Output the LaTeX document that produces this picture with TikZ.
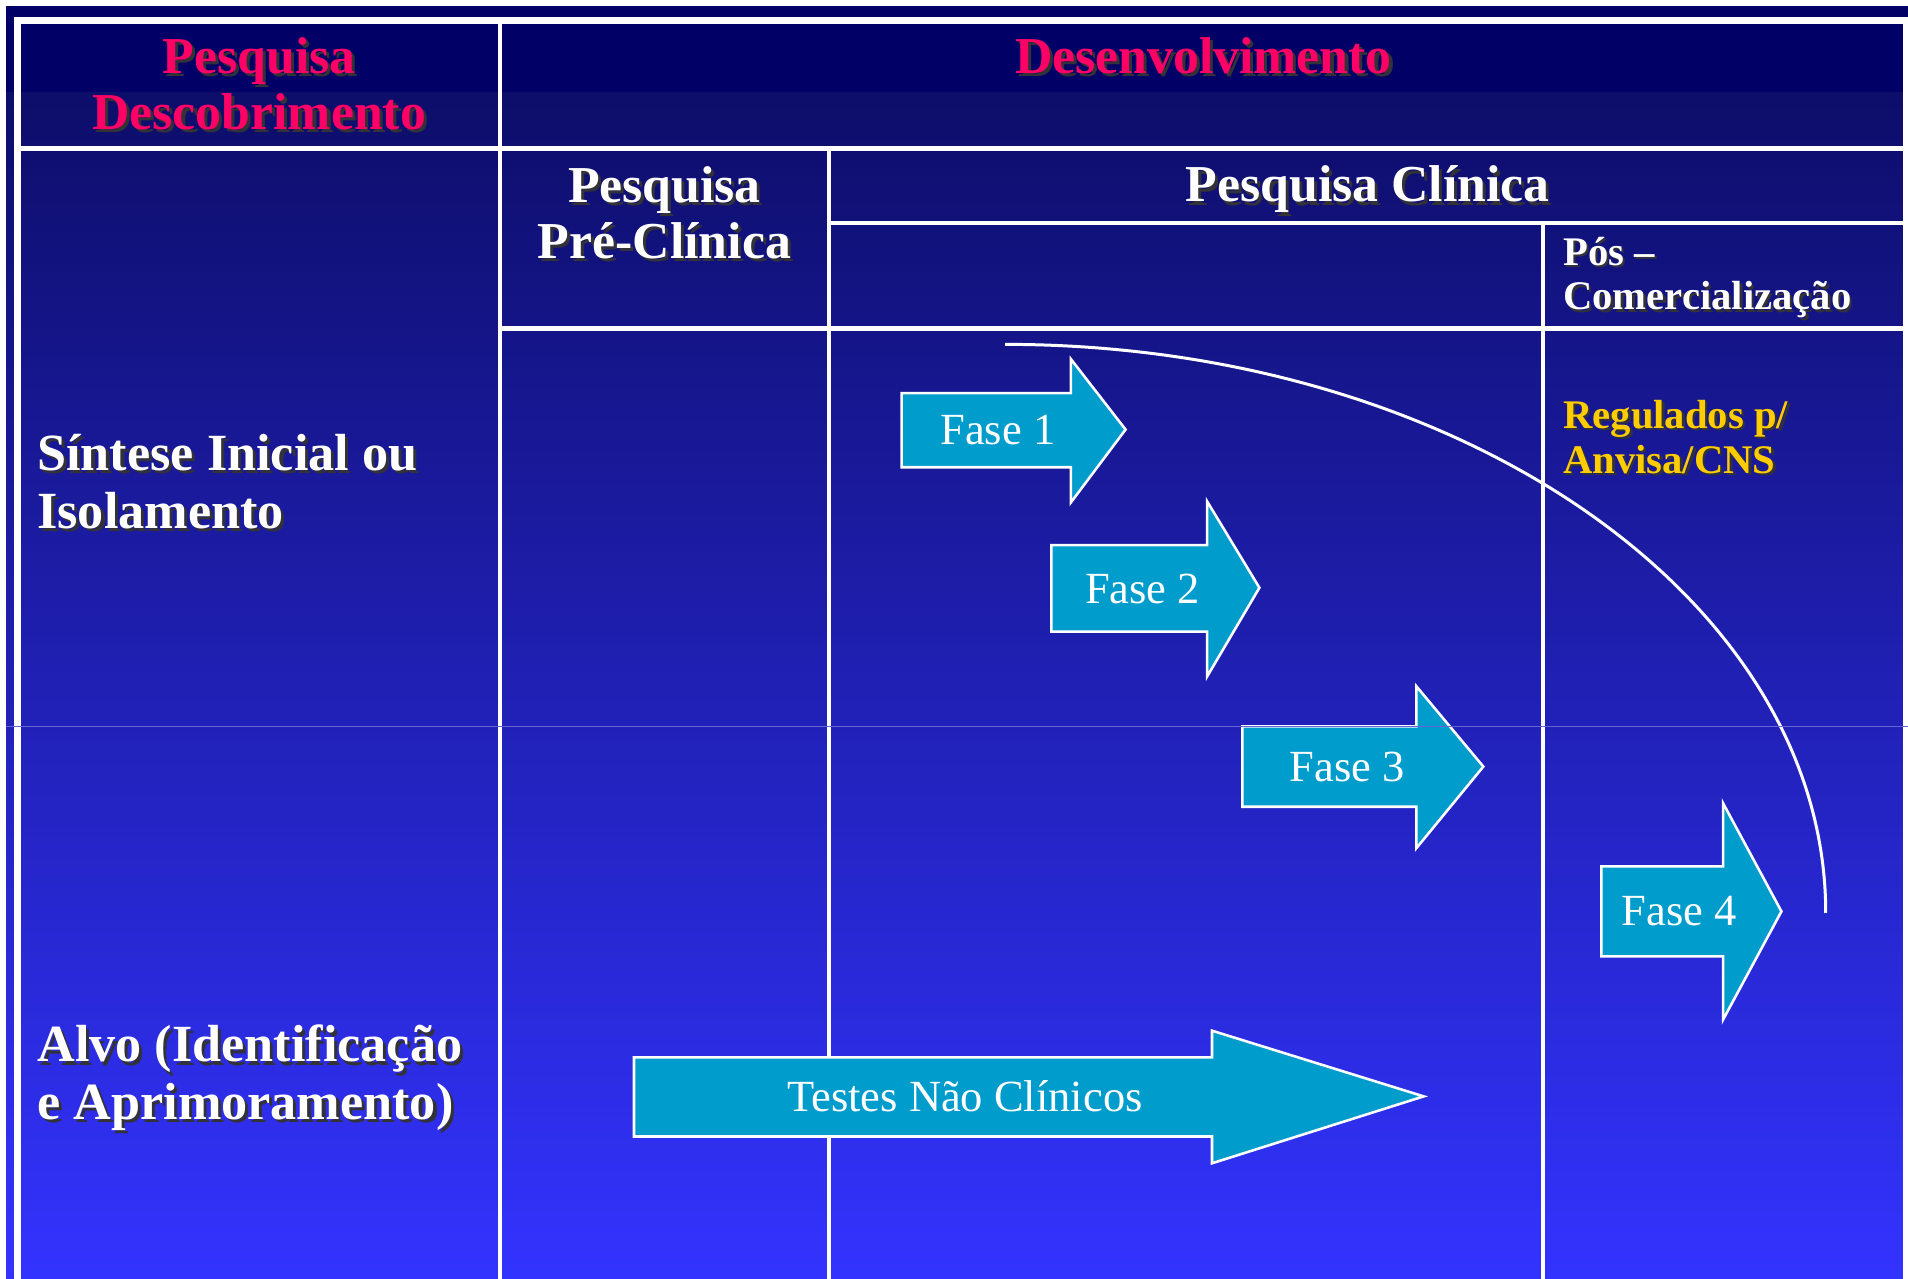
\documentclass[tikz,border=0pt]{standalone}
\usepackage{fontspec}
\setmainfont{Liberation Serif}

\definecolor{navytop}{RGB}{0,0,102}
\definecolor{navymid}{RGB}{13,13,106}
\definecolor{bluebottom}{RGB}{51,51,255}
\definecolor{headpink}{RGB}{255,0,102}
\definecolor{regyellow}{RGB}{255,204,0}
\definecolor{arrowcyan}{RGB}{0,156,204}
\definecolor{shadowgray}{RGB}{50,50,55}
\definecolor{seamblue}{RGB}{100,100,215}

% text with a small drop shadow
\newcommand{\shtxt}[1]{\leavevmode\rlap{\kern0.06em\raisebox{-0.06em}{\textcolor{shadowgray}{#1}}}#1}

\begin{document}
\begin{tikzpicture}[x=0.01cm, y=-0.01cm,
  every node/.style={inner sep=0pt},
  gridline/.style={white, line width=1pt},
  frameline/.style={white, line width=1.6pt},
  headtitle/.style={font=\fontsize{12.1}{13.2}\selectfont\bfseries, text=headpink, align=center},
  colhead/.style={font=\fontsize{12.1}{13.2}\selectfont\bfseries, text=white, align=center},
  rowlabel/.style={font=\fontsize{12.2}{13.4}\selectfont\bfseries, text=white, align=left, anchor=west},
  smallhead/.style={font=\fontsize{9.5}{10.4}\selectfont\bfseries, align=left, anchor=west},
  phasearrow/.style={fill=arrowcyan, draw=white, line width=0.6pt, line join=miter},
  phaselabel/.style={font=\fontsize{10.4}{12}\selectfont, text=white},
  sweep/.style={white, line width=0.7pt},
  seam/.style={seamblue, line width=0.4pt}]
  \useasboundingbox (0,0) rectangle (1568,1051);

  % Background
  \fill[white] (0,0) rectangle (1568,1051);
  \fill[navytop] (5,5) rectangle (1568,76);
  \shade[top color=navymid, bottom color=bluebottom] (5,76) rectangle (1568,1051);

  % Table grid
  \draw[frameline] (14.5,1051) -- (14.5,17) -- (1566.5,17) -- (1566.5,1051);
  \draw[gridline] (14.5,122) -- (1566.5,122);
  \draw[gridline] (411,17) -- (411,1051);
  \draw[gridline] (681,122) -- (681,1051);
  \draw[gridline] (681,183) -- (1566.5,183);
  \draw[gridline] (1268,183) -- (1268,1051);
  \draw[gridline] (411,270) -- (1566.5,270);

  % Headers
  \node[headtitle] (discovery) at (213,70) {\shtxt{Pesquisa}\\\shtxt{Descobrimento}};
  \node[headtitle] (development) at (989,47) {\shtxt{Desenvolvimento}};
  \node[colhead] (preclinical) at (546,176) {\shtxt{Pesquisa}\\\shtxt{Pré-Clínica}};
  \node[colhead] (clinical) at (1124,157) {\shtxt{Pesquisa Clínica}};
  \node[smallhead, text=white] (postmarket) at (1284,229) {\shtxt{Pós –}\\\shtxt{Comercialização}};
  \node[smallhead, text=regyellow] (regulated) at (1284,360) {\shtxt{Regulados p/}\\\shtxt{Anvisa/CNS}};

  % Row labels
  \node[rowlabel] (synthesis) at (30,397) {\shtxt{Síntese Inicial ou}\\\shtxt{Isolamento}};
  \node[rowlabel] (target) at (30,887) {\shtxt{Alvo (Identificação}\\\shtxt{e Aprimoramento)}};

  % Phase arrows
  \draw[phasearrow] (741,323) -- (880,323) -- (880,295) -- (925,353) -- (880,413) -- (880,384) -- (741,384) -- cycle;
  \node[phaselabel] (phase1) at (820,353) {Fase 1};
  \draw[phasearrow] (864,448) -- (992,448) -- (992,412) -- (1035,483) -- (992,556) -- (992,519) -- (864,519) -- cycle;
  \node[phaselabel] (phase2) at (939,484) {Fase 2};
  \draw[phasearrow] (1021,597) -- (1164,597) -- (1164,564) -- (1219,630) -- (1164,697) -- (1164,663) -- (1021,663) -- cycle;
  \node[phaselabel] (phase3) at (1107,630) {Fase 3};
  \draw[phasearrow] (1316,712) -- (1416,712) -- (1416,660) -- (1464,749) -- (1416,838) -- (1416,786) -- (1316,786) -- cycle;
  \node[phaselabel] (phase4) at (1380,749) {Fase 4};
  \draw[phasearrow] (521,869) -- (996,869) -- (996,847) -- (1170,901) -- (996,956) -- (996,934) -- (521,934) -- cycle;
  \node[phaselabel] (nonclinical) at (793,901) {Testes Não Clínicos};

  % Sweep curve
  \draw[sweep] (826,283) arc[start angle=90, end angle=0, x radius=6.74cm, y radius=4.67cm];

  % faint seam in the background
  \draw[seam] (5,597) -- (1568,597);
\end{tikzpicture}
\end{document}
